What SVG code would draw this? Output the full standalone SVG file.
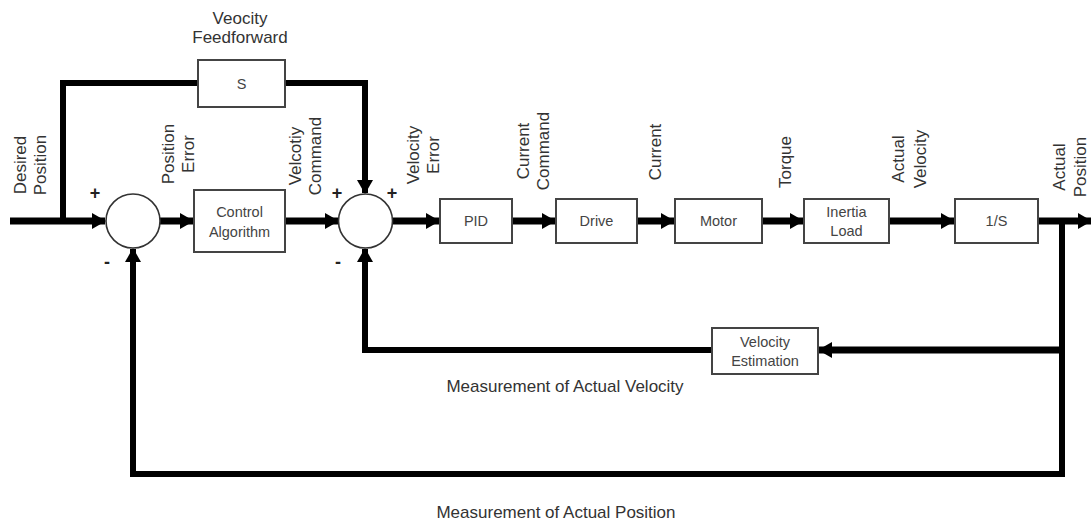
<svg xmlns="http://www.w3.org/2000/svg" width="1091" height="523" viewBox="0 0 1091 523">
<style>
.lbl{font-family:"Liberation Sans",Arial,sans-serif;font-size:17px;fill:#333;}
.rot{font-family:"Liberation Sans",Arial,sans-serif;font-size:17px;fill:#333;text-anchor:middle;}
.btx{font-family:"Liberation Sans",Arial,sans-serif;font-size:14.5px;fill:#444;text-anchor:middle;}
.box{fill:#fff;stroke:#444;stroke-width:2;}
.sum{fill:#fff;stroke:#333;stroke-width:1.6;}
.sign{font-family:"Liberation Sans",Arial,sans-serif;font-size:18px;font-weight:bold;fill:#222;text-anchor:middle;}
.w{fill:none;stroke:#000;stroke-width:7;}
.f{fill:none;stroke:#000;stroke-width:6;}
</style>
<defs>
<marker id="ah" markerUnits="userSpaceOnUse" markerWidth="14" markerHeight="16" refX="13" refY="8" orient="auto">
<path d="M0,0 L14,8 L0,16 z" fill="#000"/>
</marker>
</defs>
<rect width="1091" height="523" fill="#fff"/>
<g id="connectors">
<path class="w" d="M10,221 H105" marker-end="url(#ah)"/>
<path class="f" d="M63,221 V83 H198"/>
<path class="f" d="M285,83 H365 V193" marker-end="url(#ah)"/>
<path class="w" d="M160,221 H193" marker-end="url(#ah)"/>
<path class="w" d="M285,221 H338" marker-end="url(#ah)"/>
<path class="w" d="M392,221 H439" marker-end="url(#ah)"/>
<path class="w" d="M512,221 H555" marker-end="url(#ah)"/>
<path class="w" d="M637,221 H674" marker-end="url(#ah)"/>
<path class="w" d="M762,221 H803" marker-end="url(#ah)"/>
<path class="w" d="M889,221 H954" marker-end="url(#ah)"/>
<path class="w" d="M1038,221 H1091" marker-end="url(#ah)"/>
<path class="f" d="M1062,221 V474 H133 V249" marker-end="url(#ah)"/>
<path class="w" d="M1062,350 H819" marker-end="url(#ah)"/>
<path class="f" d="M712,350 H365 V249" marker-end="url(#ah)"/>
</g>
<g id="title">
<text class="lbl" x="240" y="24" text-anchor="middle">Veocity</text>
<text class="lbl" x="240" y="43" text-anchor="middle">Feedforward</text>
</g>
<g id="node-s"><rect class="box" x="198" y="60" width="87" height="47"/><text class="btx" x="241.5" y="89">S</text></g>
<g id="sum1"><circle class="sum" cx="133" cy="221" r="27"/>
<text class="sign" x="95" y="199">+</text><text class="sign" x="107" y="268">-</text></g>
<g id="node-control"><rect class="box" x="194" y="190" width="91" height="62"/>
<text class="btx" x="239.5" y="217">Control</text><text class="btx" x="239.5" y="237">Algorithm</text></g>
<g id="sum2"><circle class="sum" cx="365.5" cy="221" r="27"/>
<text class="sign" x="337" y="199">+</text><text class="sign" x="392" y="199">+</text><text class="sign" x="338" y="268">-</text></g>
<g id="node-pid"><rect class="box" x="440" y="199" width="72" height="44"/><text class="btx" x="476" y="226">PID</text></g>
<g id="node-drive"><rect class="box" x="556" y="199" width="81" height="44"/><text class="btx" x="596.5" y="226">Drive</text></g>
<g id="node-motor"><rect class="box" x="675" y="199" width="87" height="44"/><text class="btx" x="718.5" y="226">Motor</text></g>
<g id="node-inertia"><rect class="box" x="804" y="199" width="85" height="44"/>
<text class="btx" x="846.5" y="217">Inertia</text><text class="btx" x="846.5" y="236">Load</text></g>
<g id="node-integrator"><rect class="box" x="955" y="199" width="83" height="44"/><text class="btx" x="996.5" y="226">1/S</text></g>
<g id="node-velest"><rect class="box" x="712" y="328" width="106" height="46"/>
<text class="btx" x="765" y="347">Velocity</text><text class="btx" x="765" y="366">Estimation</text></g>
<g id="labels">
<text class="rot" transform="translate(26,165) rotate(-90)">Desired</text>
<text class="rot" transform="translate(46,165) rotate(-90)">Position</text>
<text class="rot" transform="translate(174,154) rotate(-90)">Position</text>
<text class="rot" transform="translate(194,154) rotate(-90)">Error</text>
<text class="rot" transform="translate(301,156) rotate(-90)">Velcotiy</text>
<text class="rot" transform="translate(321,156) rotate(-90)">Command</text>
<text class="rot" transform="translate(419,155) rotate(-90)">Velocity</text>
<text class="rot" transform="translate(439,155) rotate(-90)">Error</text>
<text class="rot" transform="translate(529,151) rotate(-90)">Current</text>
<text class="rot" transform="translate(549,151) rotate(-90)">Command</text>
<text class="rot" transform="translate(661,152) rotate(-90)">Current</text>
<text class="rot" transform="translate(791,162) rotate(-90)">Torque</text>
<text class="rot" transform="translate(904,159) rotate(-90)">Actual</text>
<text class="rot" transform="translate(926,159) rotate(-90)">Velocity</text>
<text class="rot" transform="translate(1065,167) rotate(-90)">Actual</text>
<text class="rot" transform="translate(1086,167) rotate(-90)">Position</text>
<text class="lbl" x="565" y="392" text-anchor="middle">Measurement of Actual Velocity</text>
<text class="lbl" x="556" y="518" text-anchor="middle">Measurement of Actual Position</text>
</g>
</svg>
